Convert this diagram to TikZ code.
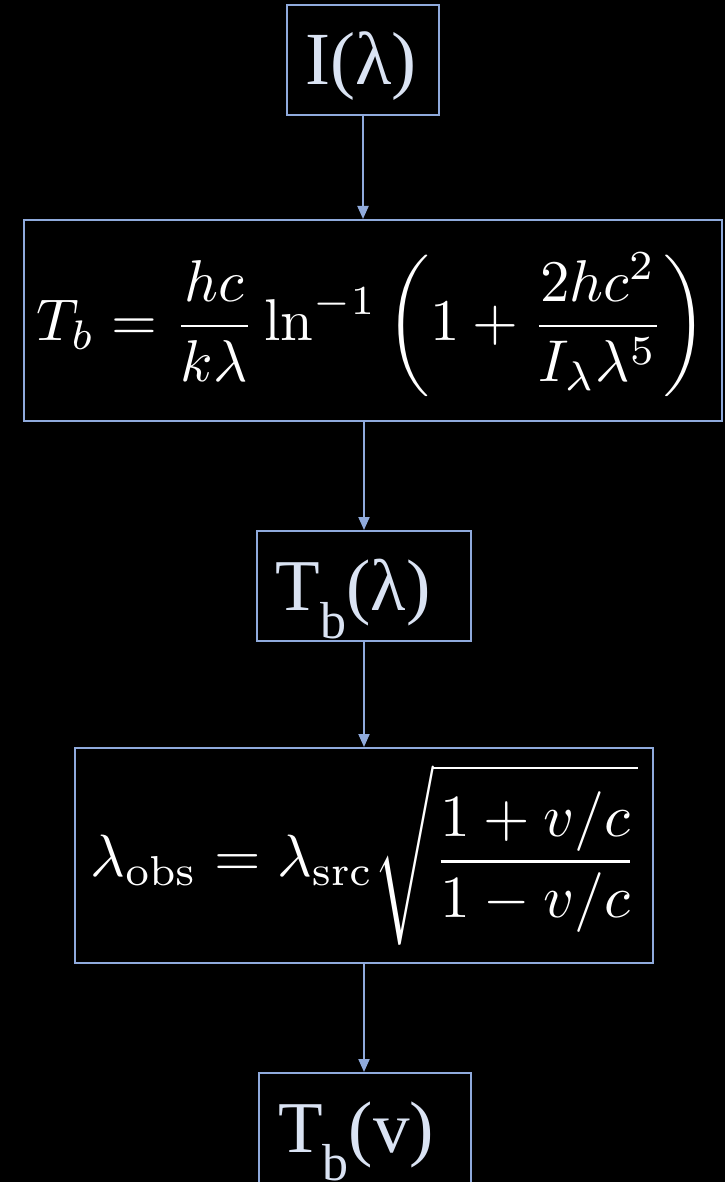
\documentclass[tikz,border=0pt]{standalone}
\usepackage[no-math]{fontspec}
\usepackage{graphicx}
\setmainfont{Liberation Serif}
\usetikzlibrary{arrows.meta}
\definecolor{boxblue}{HTML}{8FAADC}
\definecolor{lighttext}{HTML}{DAE3F3}
\begin{document}
\begin{tikzpicture}[x=1pt,y=-1pt,
  boxnode/.style={draw=boxblue, line width=2pt, inner sep=0pt, fill=black},
  label/.style={text=lighttext, inner sep=0pt, anchor=base},
  formula/.style={text=white, inner sep=0pt},
  conn/.style={draw=boxblue, line width=2pt, -{Triangle[length=13pt,width=11pt]}}]
\fill[black] (0,0) rectangle (725,1182);
\useasboundingbox (0,0) rectangle (725,1182);
% boxes
\node[boxnode, minimum width=152pt, minimum height=110pt] (b1) at (363,60) {};
\node[boxnode, minimum width=698pt, minimum height=201pt] (b2) at (373,320.5) {};
\node[boxnode, minimum width=214pt, minimum height=110pt] (b3) at (364,586) {};
\node[boxnode, minimum width=578pt, minimum height=215pt] (b4) at (364,855.5) {};
\node[boxnode, minimum width=212pt, minimum height=110pt] (b5) at (365,1128) {};
% labels
\node[label] (t1) at (361,85) {\fontsize{75}{75}\selectfont I(λ)};
\node[label] (t3) at (353,610) {\fontsize{73}{73}\selectfont T\raisebox{-28pt}{\fontsize{52}{52}\selectfont b}(λ)};
\node[label] (t5) at (356,1152) {\fontsize{73}{73}\selectfont T\raisebox{-28pt}{\fontsize{52}{52}\selectfont b}(v)};
\node[formula] (f1) at (372,325) {\resizebox{670pt}{!}{$\displaystyle T_b = \frac{hc}{k\lambda}\ln^{-1}\left(1+\frac{2hc^2}{I_\lambda\lambda^5}\right)$}};
\node[formula] (f2) at (364,855) {\resizebox{547pt}{!}{$\displaystyle \lambda_{\mathrm{obs}} = \lambda_{\mathrm{src}}\sqrt{\frac{1+v/c}{1-v/c}}$}};
% connectors
\draw[conn] (b1.south) -- (b1.south |- b2.north);
\draw[conn] (b2.south -| b3.north) -- (b3.north);
\draw[conn] (b3.south) -- (b4.north);
\draw[conn] (b4.south) -- (b4.south |- b5.north);
\end{tikzpicture}
\end{document}
